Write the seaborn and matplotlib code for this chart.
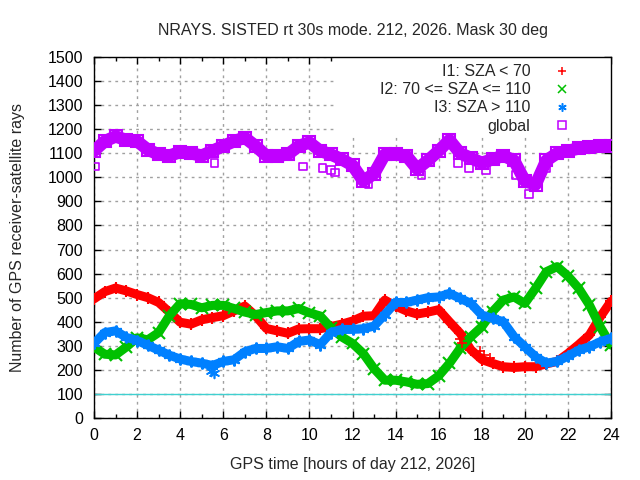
import numpy as np
import pandas as pd
import matplotlib
matplotlib.use("Agg")
import matplotlib.pyplot as plt
from matplotlib.lines import Line2D
from matplotlib.patches import Rectangle
from matplotlib.ticker import MultipleLocator
import seaborn as sns

# hours of day, sampled every half hour
hours = [i * 0.5 for i in range(49)]

sza_low = [495, 525, 540, 528, 513, 500, 480, 440, 398, 390, 408, 417, 425, 445, 465, 425,
           372, 362, 352, 370, 371, 371, 380, 390, 403, 423, 425, 490, 465, 445, 432, 440,
           450, 400, 352, 283, 243, 227, 213, 210, 213, 213, 225, 235, 268, 305, 345, 420, 485]
sza_mid = [295, 265, 262, 295, 333, 325, 355, 425, 475, 472, 458, 468, 468, 455, 440, 430,
           438, 445, 445, 455, 437, 424, 375, 337, 310, 268, 205, 157, 157, 150, 140, 143,
           175, 227, 290, 338, 379, 442, 490, 503, 476, 539, 608, 629, 590, 539, 469, 379, 303]
sza_high = [310, 355, 362, 335, 322, 302, 282, 261, 245, 235, 228, 218, 235, 242, 275, 289,
            289, 296, 289, 318, 324, 305, 355, 368, 368, 371, 382, 430, 480, 480, 490, 500,
            503, 518, 497, 476, 428, 414, 400, 338, 296, 254, 228, 235, 257, 282, 296, 317, 331]
global_rays = [1110, 1150, 1170, 1155, 1150, 1115, 1095, 1090, 1105, 1100, 1090, 1110, 1130,
               1150, 1165, 1130, 1090, 1090, 1095, 1130, 1145, 1110, 1095, 1075, 1050, 985,
               1015, 1095, 1095, 1090, 1035, 1070, 1110, 1155, 1100, 1080, 1060, 1075, 1090,
               1070, 985, 970, 1070, 1100, 1110, 1120, 1125, 1130, 1130]

# a few scattered samples away from the bands
glob_out_h = [0.05, 0.6, 5.6, 9.7, 10.6, 11.0, 11.2, 12.75, 15.2, 16.9, 17.4, 18.2, 19.6, 20.2, 21.0]
glob_out_v = [1045, 1150, 1060, 1045, 1040, 1030, 1020, 970, 1010, 1060, 1040, 1030, 1010, 930, 1040]
low_out_h = [17.0, 17.1, 17.9, 18.1, 18.4]
low_out_v = [330, 310, 280, 260, 250]
high_out_h = [5.45, 5.55]
high_out_v = [195, 185]

labels = ["I1: SZA < 70", "I2: 70 <= SZA <= 110", "I3: SZA > 110", "global"]
colors = ["#ff0000", "#00c000", "#0080ff", "#c000ff"]

df = pd.DataFrame({"hour": hours * 4,
                   "rays": sza_low + sza_mid + sza_high + global_rays,
                   "series": sum([[l] * len(hours) for l in labels], [])})

sns.set_style("ticks")
plt.rcParams["font.family"] = ["Liberation Sans", "DejaVu Sans"]
FS = 11.5

fig = plt.figure(figsize=(6.4, 4.8), dpi=100)
ax = fig.add_axes([94 / 640, 62 / 480, 517 / 640, 361 / 480])

markers = ["+", "x", (6, 2, 0), "s"]
widths = [6.5, 6.5, 6.5, 9]
for lab, col, mk, w in zip(labels, colors, markers, widths):
    d = df[df["series"] == lab]
    sns.lineplot(data=d, x="hour", y="rays", color=col, lw=w, ax=ax, zorder=3,
                 marker=mk, ms=8.5, mew=1.5, mfc="none" if mk == "s" else col, mec=col)

sns.scatterplot(x=glob_out_h, y=glob_out_v, marker="s", s=30, facecolor="none",
                edgecolor=colors[3], linewidth=1.2, ax=ax, zorder=3)
sns.scatterplot(x=low_out_h, y=low_out_v, marker="+", s=50, color=colors[0],
                linewidth=1.2, ax=ax, zorder=3)
sns.scatterplot(x=high_out_h, y=high_out_v, marker=(6, 2, 0), s=50, color=colors[2],
                linewidth=1.2, ax=ax, zorder=3)

ax.axhline(100, color="#40d0d0", lw=1, zorder=2)

ax.set_xlim(0, 24)
ax.set_ylim(0, 1500)
ax.xaxis.set_major_locator(MultipleLocator(2))
ax.xaxis.set_minor_locator(MultipleLocator(1))
ax.yaxis.set_major_locator(MultipleLocator(100))
ax.grid(True, which="major", color="#a0a0a0", linestyle=(0, (2, 3)), lw=1)
ax.set_axisbelow(True)

# white area behind the key hides the grid there
ax.add_patch(Rectangle((0.468, 0.778), 0.532, 0.222, transform=ax.transAxes,
                       facecolor="white", edgecolor="none", zorder=1))

ax.tick_params(which="both", direction="in", top=True, right=True, labelsize=FS,
               colors="black", width=1)
ax.tick_params(which="major", length=5)
ax.tick_params(which="minor", length=3)
ax.tick_params(axis="x", pad=7)
ax.tick_params(axis="y", pad=8)
for s in ax.spines.values():
    s.set_color("black")
    s.set_linewidth(1)

ax.set_xlabel("GPS time [hours of day 212, 2026]", fontsize=FS, labelpad=10)
ax.set_ylabel("Number of GPS receiver-satellite rays", fontsize=FS, labelpad=16)
ax.set_title("NRAYS. SISTED rt 30s mode. 212, 2026. Mask 30 deg", fontsize=FS, pad=16)

handles = [Line2D([], [], ls="none", marker=mk, color=c, ms=6, mew=1.1,
                  mfc="none" if mk == "s" else c) for mk, c in zip(markers, colors)]
ax.legend(handles, labels, loc="upper right", bbox_to_anchor=(0.949, 0.998),
          borderaxespad=0, frameon=False, markerfirst=False, fontsize=FS,
          handletextpad=1.0, labelspacing=0.2)

fig.savefig("out.png", dpi=100)
